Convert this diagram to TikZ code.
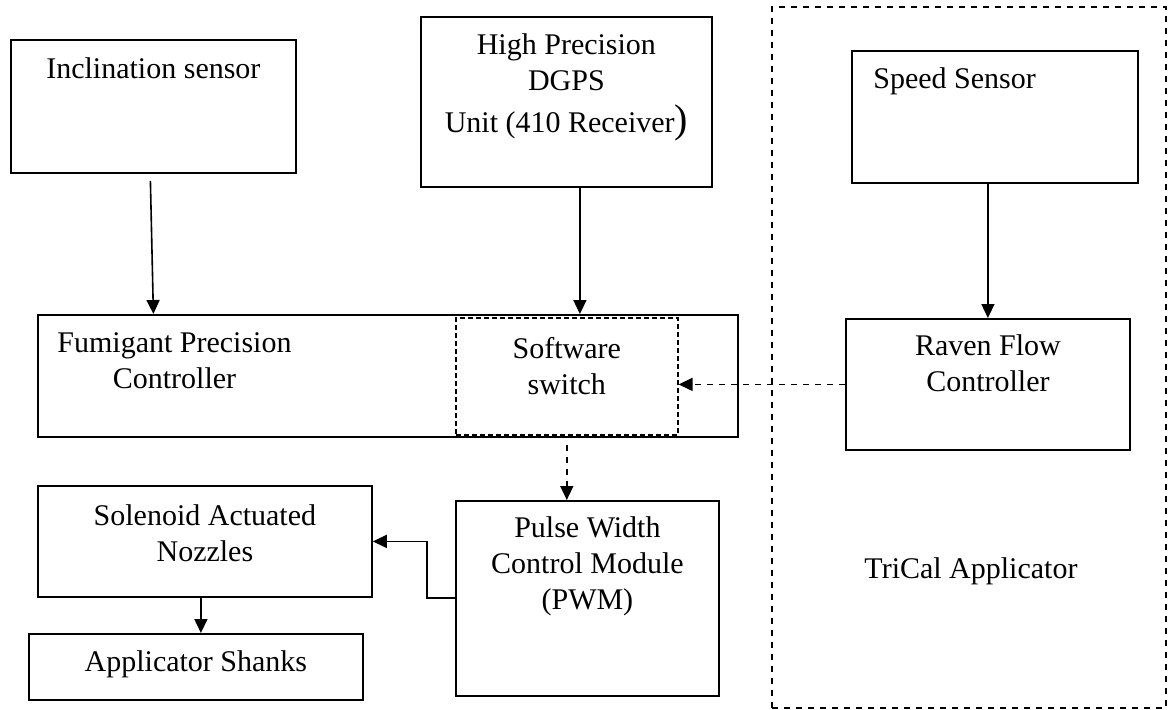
\documentclass[tikz,border=0pt]{standalone}
\usepackage{fontspec}
\setmainfont{Liberation Serif}
\usetikzlibrary{arrows.meta}
\usetikzlibrary{positioning}

\begin{document}
\begin{tikzpicture}[x=0.5pt,y=-0.5pt,
    box/.style={draw,line width=0.9pt,inner sep=0pt,anchor=north west},
    txt/.style={inner sep=0pt,align=center,font=\fontsize{15}{18}\selectfont},
    flow/.style={-{Triangle[length=7pt,width=6.5pt]},line width=0.8pt}]

		    \useasboundingbox (0,0) rectangle (1171,709);

		    % boxes
		    \node(trical) [box,dashed,line width=0.8pt,minimum width=197pt,minimum height=350.5pt] at (771,6) {};
		    \node(inc) [box,minimum width=142.5pt,minimum height=66.5pt] at (10,39) {};
		    \node(dgps) [box,minimum width=145.5pt,minimum height=85pt] at (420,16) {};
		    \node(speed) [box,minimum width=143pt,minimum height=66pt] at (851,50) {};
		    \node(raven) [box,minimum width=142pt,minimum height=65.5pt] at (845,318) {};
		    \node(fpc) [box,minimum width=350pt,minimum height=61pt] at (37,314) {};
		    \node(switch) [box,dash pattern=on 2.5pt off 1.5pt,line width=0.8pt,minimum width=111pt,minimum height=58.5pt] at (455,317) {};
		    \node(pwm) [box,minimum width=131.5pt,minimum height=97.5pt] at (455,500) {};
		    \node(sol) [box,minimum width=167pt,minimum height=55.5pt] at (37,485) {};
		    \node(shanks) [box,minimum width=167pt,minimum height=33pt] at (28,633) {};

		    % texts
		    \node(inctext) [txt,below=9pt of inc.north]{Inclination sensor};
		    \node(dgpstext) [txt,below=8.75pt of dgps.north]{High Precision\\ DGPS\\[3pt] Unit (410 Receiver{\fontsize{20}{20}\selectfont )}};
		    \node(speedtext) [txt,anchor=north west] at ([xshift=11pt,yshift=-8.75pt]speed.north west) {Speed Sensor};
		    \node(raventext) [txt,below=8.25pt of raven.north]{Raven Flow\\ Controller};
		    \node(fpctext) [txt,anchor=north west] at ([xshift=10pt,yshift=-9.25pt]fpc.north west) {Fumigant Precision\\ Controller};
		    \node(switchtext) [txt,below=9.75pt of switch.north]{Software\\ switch};
		    \node(pwmtext) [txt,below=8.25pt of pwm.north]{Pulse Width\\ Control Module\\ (PWM)};
		    \node(soltext) [txt,below=9.75pt of sol.north]{Solenoid Actuated\\ Nozzles};
		    \node(shankstext) [txt,below=8.75pt of shanks.north]{Applicator Shanks};
		    \node(trical text) [txt,anchor=north] at (971,557.5) {TriCal Applicator};

		    % connectors
		    \draw[flow] ([xshift=-1.5pt,yshift=-3.5pt]inc.south) -- (inc.south |- fpc.north);
		    \draw[flow] ([xshift=6.75pt]dgps.south) -- ([xshift=6.75pt]dgps.south |- fpc.north);
		    \draw[flow] (raven.north |- speed.south) -- (raven.north);
		    \draw[flow,dashed] (raven.west) -- (raven.west -| switch.east);
		    \draw[flow,dashed] ([yshift=-4.5pt]switch.south) -- (switch.south |- pwm.north);
		    \draw[flow] (pwm.west |- sol.south) -- ++(-14pt,0) |- (sol.east);
		    \draw[flow] ([xshift=-2pt]sol.south) -- ([xshift=-2pt]sol.south |- shanks.north);

\end{tikzpicture}
\end{document}
